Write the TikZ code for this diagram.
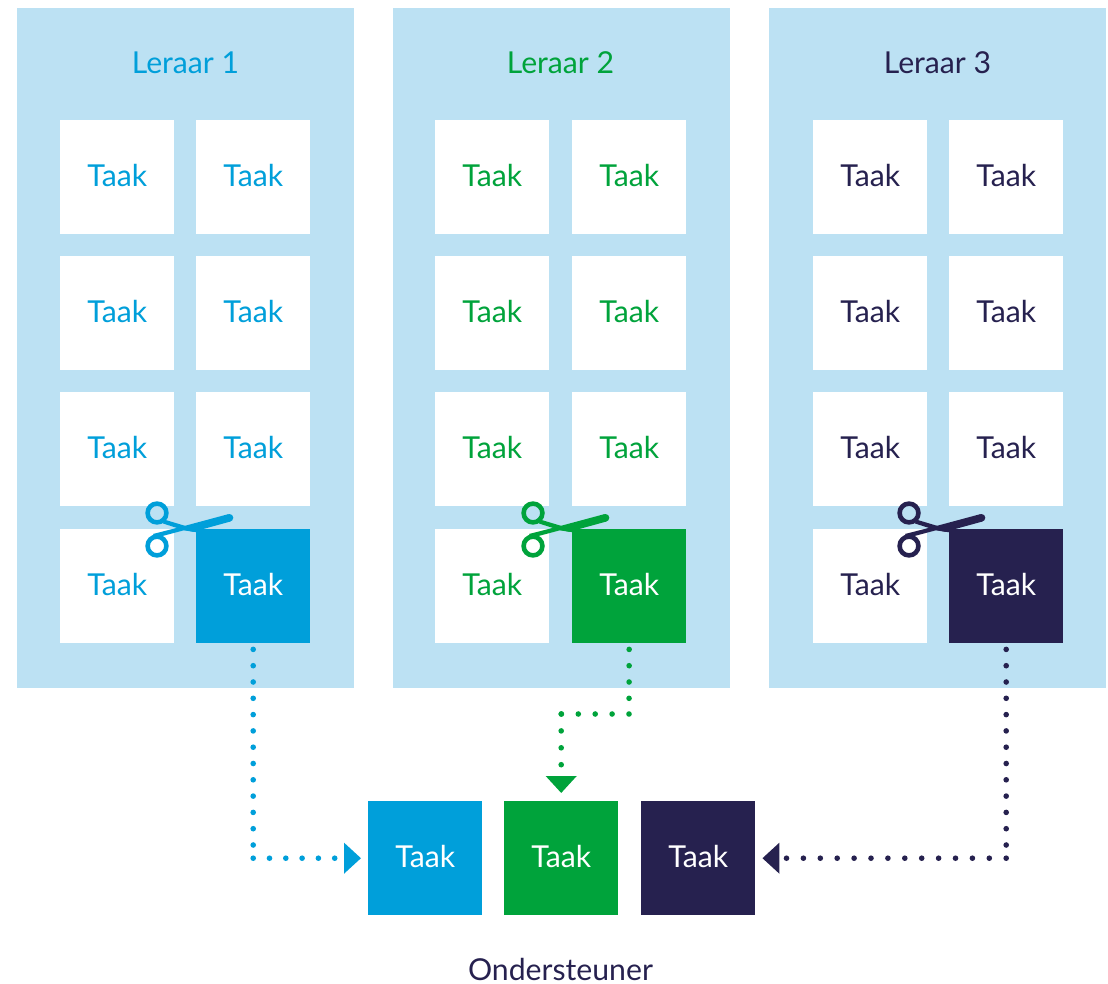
\documentclass[tikz,border=0pt]{standalone}
\usepackage{fontspec}
\setmainfont{Lato}
\usetikzlibrary{arrows.meta}
\definecolor{cblue}{HTML}{009FDA}
\definecolor{cgreen}{HTML}{00A33B}
\definecolor{cnavy}{HTML}{26214F}
\definecolor{cpanel}{HTML}{BCE1F3}
\tikzset{
  panel/.style={fill=cpanel,draw=none,minimum width=337pt,minimum height=680pt,inner sep=0pt,anchor=north west},
  tile/.style={fill=white,draw=none,minimum size=114pt,inner sep=0pt,anchor=north west,font=\fontsize{30.2pt}{31pt}\selectfont,text depth=3pt,text height=22pt},
  solidtile/.style={tile,text=white},
  title/.style={font=\fontsize{30.2pt}{31pt}\selectfont,inner sep=0pt},
  dotsx/.style={line width=5.6pt,line cap=round,dash pattern=on 0pt off 16.3pt},
  dotsy/.style={line width=5.6pt,line cap=round,dash pattern=on 0pt off 16.9pt},
  head/.style={-{Triangle[length=17pt,width=30pt,sep=0pt]}},
  pics/scissors/.style={code={
    \draw[line width=4.6pt] (157,513) circle[radius=9.4];
    \draw[line width=4.6pt] (157,546) circle[radius=9.4];
    \fill (153,534) -- (185,525.8) -- (228.5,514.1) -- (230.5,521.5) -- (193,531.8) -- (185,530) -- (155,538) -- cycle;
    \fill (229.5,517.8) circle[radius=3.8];
    \fill (164,519.5) -- (185,525.8) -- (202,533) -- (185,530.5) -- (163,523.5) -- cycle;
  }}
}
\begin{document}
\begin{tikzpicture}[x=1pt,y=-1pt]
\useasboundingbox (0,0) rectangle (1108,984);
\node[panel] (p1) at (17,8) {};
\node[panel] (p2) at (393,8) {};
\node[panel] (p3) at (769,8) {};
\node[title,text=cblue] (h1) at (185.5,63) {Leraar 1};
\node[title,text=cgreen] (h2) at (560.5,63) {Leraar 2};
\node[title,text=cnavy] (h3) at (937.5,63) {Leraar 3};
\foreach \n/\c/\xa/\xb in {1/cblue/60/196,2/cgreen/435/572,3/cnavy/813/949}{
  \foreach \r/\y in {1/120,2/256,3/392}{
    \node[tile,text=\c] (t\n a\r) at (\xa,\y) {Taak};
    \node[tile,text=\c] (t\n b\r) at (\xb,\y) {Taak};
  }
  \node[tile,text=\c] (t\n a4) at (\xa,529) {Taak};
  \node[solidtile,fill=\c] (t\n b4) at (\xb,529) {Taak};
}
\pic[color=cblue] at (0,0) {scissors};
\pic[color=cgreen] at (376,0) {scissors};
\pic[color=cnavy] at (752,0) {scissors};
\node[solidtile,fill=cblue] (s1) at (368,801) {Taak};
\node[solidtile,fill=cgreen] (s2) at (504,801) {Taak};
\node[solidtile,fill=cnavy] (s3) at (641,801) {Taak};
\node[title,text=cnavy] (ond) at (560.5,969) {Ondersteuner};
\coordinate (c1) at (t1b4.south |- s1.west);
\coordinate (c2a) at (629,714);
\coordinate (c2b) at (s2.north |- c2a);
\coordinate (c3) at (t3b4.south |- s3.east);
\draw[dotsx,cblue,shorten <=6pt] (t1b4.south) -- (c1);
\draw[dotsx,cblue,head,shorten >=7pt] (c1) -- (s1.west);
\draw[dotsx,cgreen,shorten <=6pt] (t2b4.south) -- (c2a);
\draw[dotsy,cgreen] (c2a) -- (c2b);
\draw[dotsy,cgreen,head,shorten >=8pt] (c2b) -- (s2.north);
\draw[dotsx,cnavy,shorten <=6pt] (t3b4.south) -- (c3);
\draw[dotsy,cnavy,head,shorten >=7pt] (c3) -- (s3.east);
\end{tikzpicture}
\end{document}
